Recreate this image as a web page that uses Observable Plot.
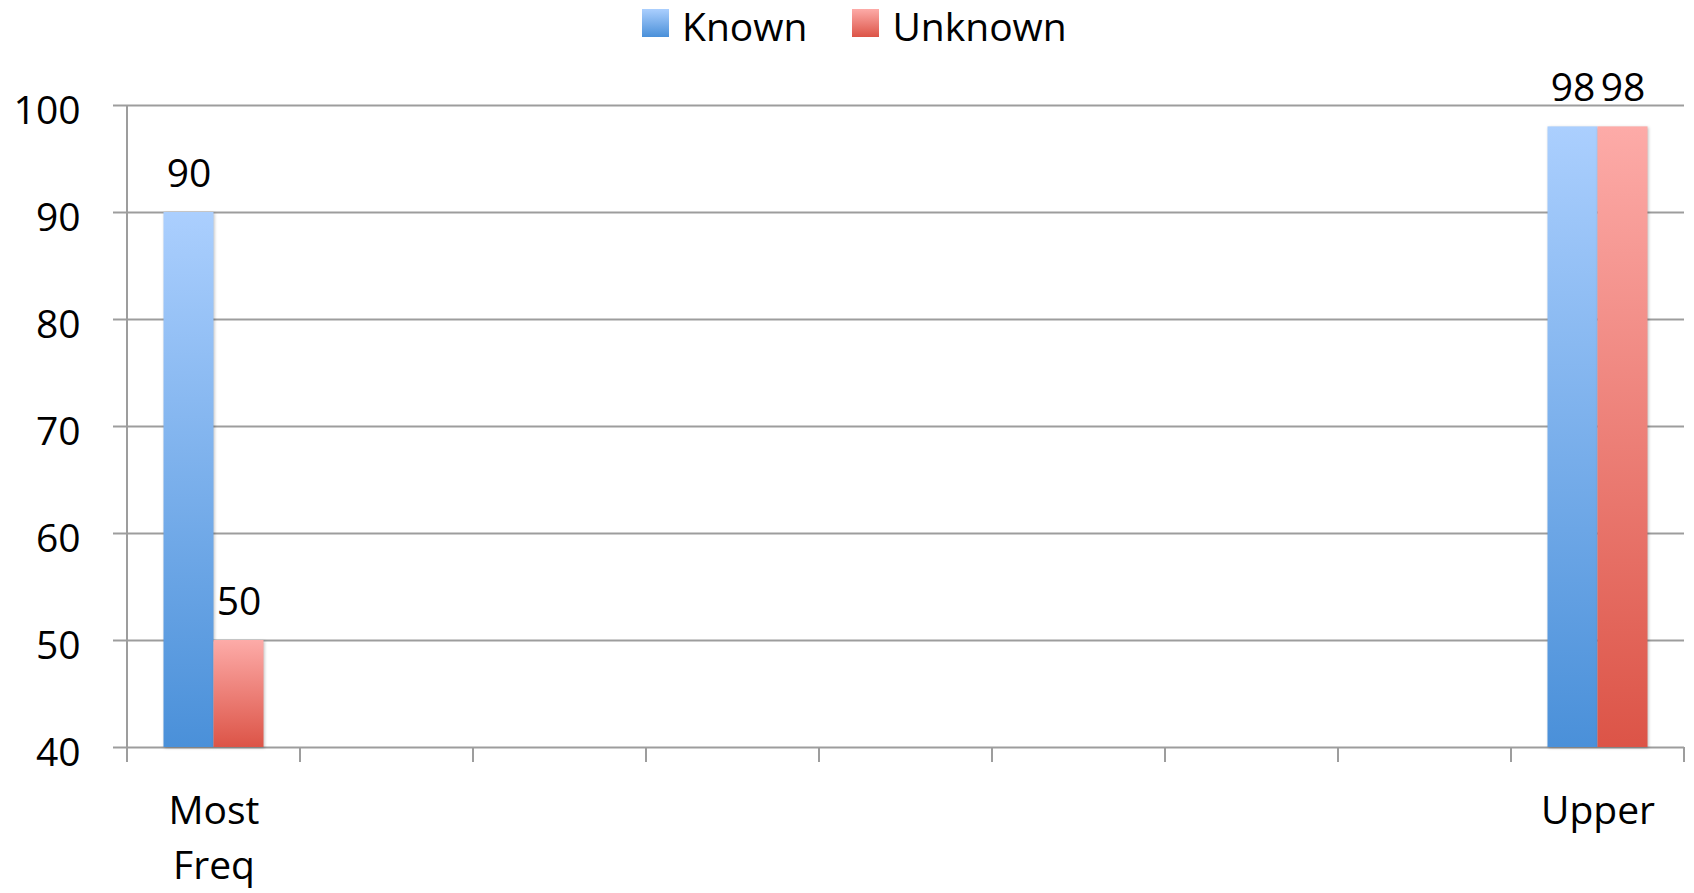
<!DOCTYPE html>
<html>
<head>
<meta charset="utf-8">
<script src="https://cdn.jsdelivr.net/npm/d3@7"></script>
<script src="https://cdn.jsdelivr.net/npm/@observablehq/plot@0.6"></script>
<style>
  body { margin: 0; background: #fff; font-family: "Open Sans", sans-serif; }
  #legend { height: 50px; display: flex; align-items: center; padding-left: 642px; font-size: 39px; color: #000; }
  .item { display: flex; align-items: center; margin-right: 45px; }
  .sw { width: 27px; height: 28px; margin-right: 13px; margin-top: -4px; }
</style>
</head>
<body>
<div id="legend"></div>
<div id="chart"></div>
<script>
// Categories along the x axis (blank slots have no values)
const categories = ["Most\nFreq", "", "", "", "", "", "", "", "Upper"];
const seriesNames = ["Known", "Unknown"];
const knownValues   = [90, null, null, null, null, null, null, null, 98];
const unknownValues = [50, null, null, null, null, null, null, null, 98];
const yTicks = [40, 50, 60, 70, 80, 90, 100];

// Styling
const gridColor = "#9d9d9d";
const gradients = {
  Known:   {id: "gradKnown",   top: "#abcffe", bottom: "#4a90d9"},
  Unknown: {id: "gradUnknown", top: "#fdaba8", bottom: "#dc5447"}
};
const W = 1694, H = 843;
const margins = {top: 55, right: 10, bottom: 146, left: 127};
const barW = 50;
const fontSize = 39;

const yMin = yTicks[0], yMax = yTicks[yTicks.length - 1];
const step = (W - margins.left - margins.right) / categories.length;
const outer = (step - 2 * barW) / 2;

const rows = categories.map((label, i) => ({i, label, Known: knownValues[i], Unknown: unknownValues[i]}));
const knownRows = rows.filter(d => d.Known != null);
const unknownRows = rows.filter(d => d.Unknown != null);

// Legend
const legend = d3.select("#legend");
seriesNames.forEach(name => {
  const g = gradients[name];
  const item = legend.append("div").attr("class", "item");
  item.append("div").attr("class", "sw")
    .style("background", `linear-gradient(${g.top}, ${g.bottom})`);
  item.append("span").text(name);
});

// Category separators on the x axis plus the vertical y axis line
function axisFrame(index, scales, values, dims) {
  const x = scales.x, y = scales.y;
  const y0 = y(yMin);
  const g = d3.create("svg:g").attr("stroke", gridColor).attr("stroke-width", 2);
  g.append("line").attr("x1", dims.marginLeft).attr("x2", dims.marginLeft)
    .attr("y1", y(yMax)).attr("y2", y0 + 15);
  const dom = x.domain();
  dom.forEach(k => {
    g.append("line").attr("x1", x(k)).attr("x2", x(k)).attr("y1", y0).attr("y2", y0 + 15);
  });
  const xe = x(dom[dom.length - 1]) + x.bandwidth();
  g.append("line").attr("x1", xe).attr("x2", xe).attr("y1", y0).attr("y2", y0 + 15);
  return g.node();
}

const chart = Plot.plot({
  width: W,
  height: H,
  marginTop: margins.top,
  marginRight: margins.right,
  marginBottom: margins.bottom,
  marginLeft: margins.left,
  style: {fontFamily: "Open Sans, sans-serif", color: "#000", background: "#fff"},
  x: {domain: d3.range(categories.length), padding: 0, axis: null},
  y: {domain: [yMin, yMax], axis: null},
  marks: [
    Plot.ruleY(yTicks, {stroke: gridColor, strokeWidth: 2, insetLeft: -14}),
    axisFrame,
    Plot.axisY({ticks: yTicks, tickSize: 0, tickPadding: 47, fontSize, dy: 6, fill: "#000"}),
    Plot.barY(knownRows, {x: "i", y1: yMin, y2: "Known", fill: `url(#${gradients.Known.id})`,
      insetLeft: outer, insetRight: outer + barW}),
    Plot.barY(unknownRows, {x: "i", y1: yMin, y2: "Unknown", fill: `url(#${gradients.Unknown.id})`,
      insetLeft: outer + barW, insetRight: outer}),
    Plot.text(knownRows, {x: "i", y: "Known", text: d => String(d.Known), dx: -barW / 2, dy: -26,
      lineAnchor: "bottom", fontSize, fill: "#000"}),
    Plot.text(unknownRows, {x: "i", y: "Unknown", text: d => String(d.Unknown), dx: barW / 2, dy: -26,
      lineAnchor: "bottom", fontSize, fill: "#000"}),
    Plot.text(rows, {x: "i", text: "label", frameAnchor: "bottom", lineAnchor: "top", dy: 37,
      lineHeight: 1.42, fontSize, fill: "#000"})
  ]
});

// Vertical gradients for the bars
const svg = d3.select(chart.tagName.toLowerCase() === "svg" ? chart : chart.querySelector("svg"));
const defs = svg.insert("defs", ":first-child");
Object.values(gradients).forEach(g => {
  const lg = defs.append("linearGradient").attr("id", g.id)
    .attr("x1", 0).attr("y1", 0).attr("x2", 0).attr("y2", 1);
  lg.append("stop").attr("offset", "0%").attr("stop-color", g.top);
  lg.append("stop").attr("offset", "100%").attr("stop-color", g.bottom);
});
svg.selectAll("g[aria-label='bar']").style("filter", "drop-shadow(1px 1px 1.5px rgba(0,0,0,0.25))");

document.getElementById("chart").appendChild(chart);
</script>
</body>
</html>
